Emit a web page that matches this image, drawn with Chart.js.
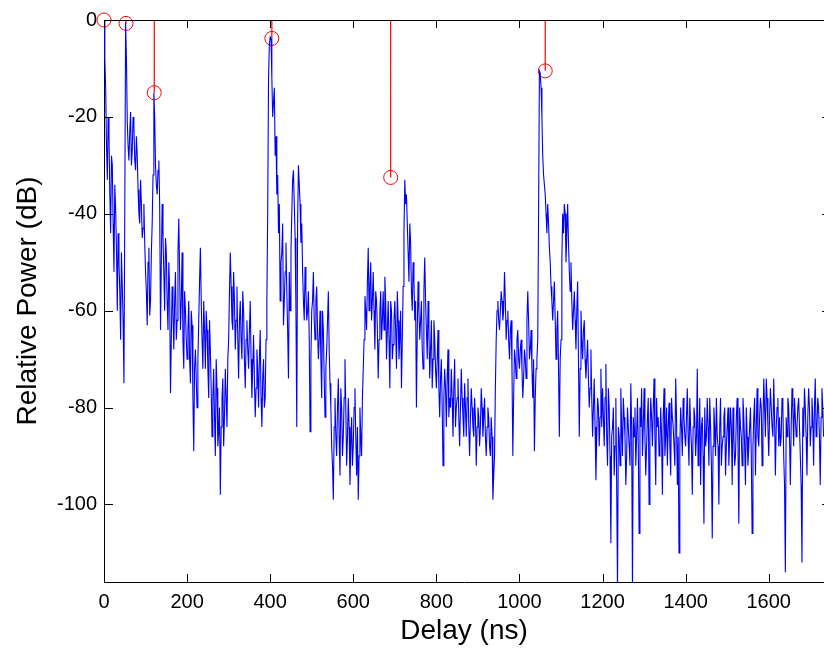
<!DOCTYPE html>
<html>
<head>
<meta charset="utf-8">
<script src="https://cdn.jsdelivr.net/npm/chart.js@4.4.1/dist/chart.umd.min.js"></script>
<style>
  html, body { margin: 0; padding: 0; background: #fff; }
  #wrap { width: 824px; height: 650px; }
</style>
</head>
<body>
<div id="wrap"><canvas id="pdp"></canvas></div>
<script>
// power delay profile (dB)
// powerDb at 0, 4, 8 ... ns ; powerDbMid at 2, 6, 10 ... ns
const stepNs = 4;
const powerDb = [
  // 0 - 96
  0, -14, -33, -24, -44, -30, -52, -39, -60, -50, -66, -55, -75,
  -0.5, -21, -29, -19, -27, -22, -31, -28, -40, -33, -45, -38,
  // 100 - 196
  -52, -63, -47, -58, -42, -15, -30, -36, -29, -64, -38, -52, -45,
  -58, -50, -77, -55, -68, -52, -62, -41, -64, -48, -72, -60,
  // 200 - 296
  -70, -58, -75, -63, -89, -68, -80, -62, -47, -66, -58, -72, -64,
  -78, -68, -86, -72, -90, -76, -85, -98, -78, -88, -72, -84,
  // 300 - 396
  -66, -48, -62, -52, -68, -55, -74, -58, -70, -60, -76, -62, -72,
  -58, -78, -65, -82, -68, -80, -64, -84, -70, -78, -58, -12,
  // 400 - 496
  -3.5, -12, -17, -28, -36, -44, -58, -48, -63, -52, -56, -74, -60,
  -40, -31, -45, -84, -30, -38, -42, -58, -51, -62, -56, -85,
  // 500 - 596
  -60, -52, -66, -55, -70, -60, -78, -64, -82, -68, -56, -75, -88,
  -99, -78, -90, -74, -94, -80, -86, -70, -92, -78, -96, -82,
  // 600 - 696
  -88, -76, -94, -99, -80, -90, -72, -57, -64, -47, -55, -62, -52,
  -68, -58, -74, -60, -66, -56, -53, -70, -58, -76, -60, -67,
  // 700 - 796
  -58, -72, -62, -66, -76, -55, -33, -36, -48, -42, -56, -50, -62,
  -80, -54, -66, -58, -72, -49, -64, -58, -74, -62, -70, -66,
  // 800 - 896
  -76, -64, -82, -70, -92, -72, -84, -68, -78, -72, -86, -70, -80,
  -74, -88, -72, -82, -75, -86, -74, -90, -76, -84, -78, -92,
  // 900 - 996
  -80, -88, -76, -86, -78, -90, -80, -88, -82, -99, -90, -66, -58,
  -64, -56, -62, -52, -66, -60, -70, -62, -90, -68, -74, -64,
  // 1000 - 1096
  -72, -66, -78, -68, -74, -56, -70, -64, -78, -89, -72, -66, -10.5,
  -14, -28, -34, -40, -38, -47, -55, -62, -54, -70, -60, -86,
  // 1100 - 1196
  -66, -40, -38, -50, -38, -52, -50, -64, -56, -68, -54, -86, -60,
  -70, -62, -74, -66, -80, -68, -86, -74, -95, -78, -88, -72,
  // 1200 - 1296
  -76, -88, -71, -92, -80, -108, -84, -94, -78, -118, -86, -76, -90,
  -82, -96, -80, -88, -75, -118, -86, -92, -78, -106, -84, -90,
  // 1300 - 1396
  -76, -94, -82, -100, -78, -88, -74, -96, -84, -90, -80, -98, -76,
  -86, -92, -79, -94, -82, -88, -74, -96, -110, -80, -90, -82,
  // 1400 - 1496
  -88, -76, -92, -84, -98, -80, -90, -72, -86, -96, -82, -104, -88,
  -78, -92, -84, -107, -80, -90, -86, -100, -78, -88, -82, -94,
  // 1500 - 1596
  -84, -92, -80, -96, -86, -90, -78, -104, -84, -92, -82, -96, -86,
  -88, -80, -106, -82, -94, -76, -88, -78, -92, -74, -86, -78,
  // 1600 - 1732
  -90, -76, -84, -74, -94, -80, -88, -88, -78, -90, -114, -86, -80,
  -96, -76, -88, -82, -84, -78, -90, -112, -86, -80, -94, -76,
  -88, -78, -92, -74, -84, -80, -96, -76, -86
];

const powerDbMid = [
  // 2 - 98
  -8, -26, -20, -36, -28, -42, -34, -47, -44, -56, -48, -62, -40,
  -8, -26, -23, -30, -20, -29, -24, -35, -42, -38, -43, -46,
  // 102 - 198
  -56, -50, -61, -48, -32, -20, -34, -31, -38, -50, -45, -60, -48,
  -64, -56, -66, -60, -58, -66, -48, -52, -58, -66, -56, -66,
  // 202 - 298
  -64, -70, -60, -78, -72, -74, -70, -54, -58, -72, -64, -60, -72,
  -62, -76, -78, -82, -70, -88, -80, -84, -74, -82, -78, -70,
  // 302 - 398
  -56, -55, -64, -58, -62, -66, -62, -66, -56, -70, -66, -68, -64,
  -70, -72, -74, -76, -72, -70, -78, -74, -80, -66, -40, -5,
  // 402 - 498
  -3.8, -20, -14, -24, -32, -38, -50, -42, -58, -46, -64, -52, -48,
  -33, -38, -60, -42, -34, -46, -52, -62, -56, -60, -66, -70,
  // 502 - 598
  -58, -62, -58, -64, -66, -70, -60, -74, -72, -62, -68, -80, -92,
  -84, -86, -80, -86, -76, -90, -78, -80, -86, -84, -88, -92,
  // 602 - 698
  -80, -86, -84, -90, -86, -78, -66, -60, -54, -60, -50, -58, -60,
  -56, -64, -66, -56, -62, -64, -58, -64, -66, -58, -70, -62,
  // 702 - 798
  -64, -56, -70, -60, -66, -44, -38, -42, -54, -46, -60, -54, -58,
  -64, -60, -62, -68, -56, -58, -70, -64, -68, -76, -62, -72,
  // 802 - 898
  -70, -76, -74, -80, -78, -76, -74, -82, -80, -78, -76, -84, -78,
  -82, -80, -78, -86, -80, -78, -84, -82, -80, -86, -82, -84,
  // 902 - 998
  -82, -84, -80, -82, -86, -84, -82, -90, -86, -94, -76, -60, -62,
  -60, -58, -60, -58, -62, -66, -64, -72, -78, -70, -66, -70,
  // 1002 - 1098
  -68, -72, -74, -70, -62, -62, -68, -72, -70, -78, -70, -40, -11,
  -20, -32, -36, -44, -42, -50, -58, -58, -62, -64, -72, -70,
  // 1102 - 1198
  -50, -44, -40, -44, -46, -56, -58, -60, -62, -60, -70, -72, -66,
  -64, -70, -70, -74, -76, -78, -80, -84, -86, -80, -82, -84,
  // 1202 - 1298
  -82, -78, -86, -76, -90, -86, -80, -88, -96, -84, -92, -84, -78,
  -86, -90, -84, -92, -84, -82, -80, -86, -88, -80, -76, -84,
  // 1302 - 1398
  -86, -88, -78, -86, -82, -80, -86, -78, -82, -88, -86, -82, -90,
  -80, -84, -88, -78, -84, -92, -82, -86, -88, -84, -78, -86,
  // 1402 - 1498
  -82, -86, -78, -88, -84, -82, -86, -92, -78, -84, -90, -80, -86,
  -84, -78, -92, -88, -84, -78, -88, -84, -92, -86, -80, -88,
  // 1502 - 1598
  -80, -86, -84, -80, -92, -82, -88, -80, -86, -78, -88, -80, -92,
  -84, -90, -88, -78, -84, -86, -82, -80, -84, -80, -74, -84,
  // 1602 - 1730
  -82, -80, -86, -82, -84, -78, -82, -86, -80, -96, -82, -78, -86,
  -84, -80, -78, -86, -80, -84, -96, -80, -76, -86, -82, -80,
  -84, -82, -80, -86, -78, -86, -82, -80
];

// detected paths (stem markers)
const pathDelays = [0, 53, 121, 404, 690, 1062];
const pathGains = [0, -0.7, -15, -3.8, -32.5, -10.5];

const delayTicks = [0, 200, 400, 600, 800, 1000, 1200, 1400, 1600];
const powerTicks = [0, -20, -40, -60, -80, -100];
const delayMax = 1750;   // full axis; the picture is cut at ~1733

const profile = [];
powerDb.forEach(function(v, i) {
  profile.push({ x: i * stepNs, y: v });
  if (i < powerDbMid.length) {
    profile.push({ x: i * stepNs + stepNs / 2, y: powerDbMid[i] });
  }
});

const stems = [];
pathDelays.forEach(function(d, i) {
  stems.push({ x: d, y: 0 });
  stems.push({ x: d, y: pathGains[i] });
  stems.push({ x: d, y: null });
});
const markers = pathDelays.map((d, i) => ({ x: d, y: pathGains[i] }));

// MATLAB style inward ticks plus top box edge
const boxTicks = {
  id: 'boxTicks',
  afterDraw(chart) {
    const { ctx, chartArea: a, scales } = chart;
    const rightEdge = scales.x.getPixelForValue(delayMax);
    ctx.save();
    ctx.strokeStyle = '#000';
    ctx.lineWidth = 1;
    ctx.beginPath();
    ctx.moveTo(a.left, a.top + 0.5);
    ctx.lineTo(a.right, a.top + 0.5);
    delayTicks.forEach(function(t) {
      const x = Math.round(scales.x.getPixelForValue(t)) + 0.5;
      ctx.moveTo(x, a.bottom);
      ctx.lineTo(x, a.bottom - 8);
      ctx.moveTo(x, a.top);
      ctx.lineTo(x, a.top + 8);
    });
    powerTicks.forEach(function(t) {
      const y = Math.round(scales.y.getPixelForValue(t)) + 0.5;
      ctx.moveTo(a.left, y);
      ctx.lineTo(a.left + 9, y);
      ctx.moveTo(rightEdge, y);
      ctx.lineTo(rightEdge - 9, y);
    });
    ctx.stroke();
    ctx.restore();
  }
};

const fontFamily = "'Liberation Sans', Arial, sans-serif";

new Chart(document.getElementById('pdp'), {
  type: 'line',
  data: {
    datasets: [
      {
        data: stems,
        borderColor: '#ff0000',
        borderWidth: 1.2,
        pointRadius: 0,
        spanGaps: false,
        order: 2
      },
      {
        type: 'scatter',
        data: markers,
        borderColor: '#ff0000',
        backgroundColor: 'rgba(0,0,0,0)',
        borderWidth: 1,
        pointRadius: 7,
        clip: false,
        order: 2
      },
      {
        data: profile,
        borderColor: '#0000ff',
        borderWidth: 1.1,
        pointRadius: 0,
        tension: 0,
        order: 1
      }
    ]
  },
  options: {
    responsive: true,
    maintainAspectRatio: false,
    animation: false,
    layout: { autoPadding: false, padding: { top: 20, right: 0, left: 0, bottom: 0 } },
    plugins: {
      legend: { display: false },
      tooltip: { enabled: false }
    },
    scales: {
      x: {
        type: 'linear',
        min: 0,
        max: 1733,
        grid: { display: false, drawTicks: false },
        border: { display: true, color: '#000', width: 1 },
        afterFit: function(scale) { scale.height = 68; },
        afterBuildTicks: function(scale) {
          scale.ticks = delayTicks.map(v => ({ value: v }));
        },
        ticks: {
          color: '#000',
          padding: 8,
          maxRotation: 0,
          autoSkip: false,
          callback: v => String(v),
          font: { family: fontFamily, size: 20 }
        },
        title: {
          display: true,
          text: 'Delay (ns)',
          color: '#000',
          padding: { top: 0, bottom: 2 },
          font: { family: fontFamily, size: 28 }
        }
      },
      y: {
        type: 'linear',
        min: -116,
        max: 0,
        grid: { display: false, drawTicks: false },
        border: { display: true, color: '#000', width: 1 },
        afterFit: function(scale) { scale.width = 104; },
        afterBuildTicks: function(scale) {
          scale.ticks = powerTicks.map(v => ({ value: v }));
        },
        ticks: {
          color: '#000',
          padding: 7,
          autoSkip: false,
          callback: v => String(v),
          font: { family: fontFamily, size: 20 }
        },
        title: {
          display: true,
          text: 'Relative Power (dB)',
          color: '#000',
          padding: { top: 11, bottom: 0 },
          font: { family: fontFamily, size: 28 }
        }
      }
    }
  },
  plugins: [boxTicks]
});
</script>
</body>
</html>
